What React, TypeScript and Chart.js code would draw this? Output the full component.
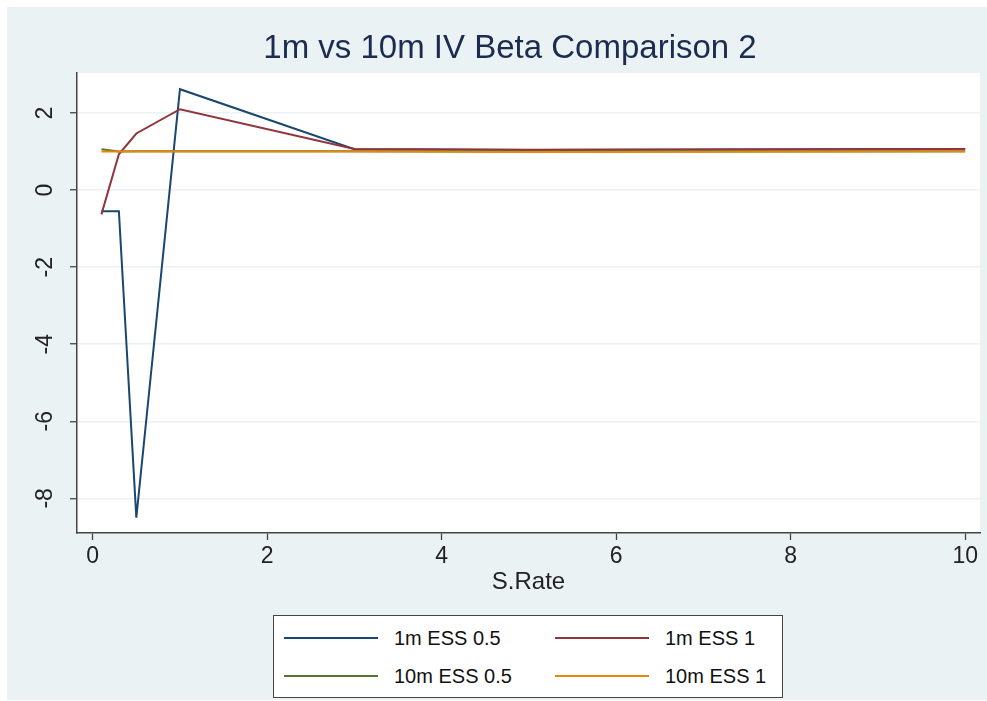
import React, { useEffect, useRef } from "react";
import { Chart, registerables } from "chart.js";

Chart.register(...registerables);

const sRate = [0.1, 0.3, 0.5, 1, 3, 5, 10];
const ess1m05 = [-0.55, -0.55, -8.5, 2.62, 1.06, 1.04, 1.07];
const ess1m1 = [-0.63, 0.93, 1.47, 2.1, 1.07, 1.05, 1.07];
const ess10m05 = [1.06, 1.0, 1.01, 1.01, 1.01, 1.0, 1.01];
const ess10m1 = [1.0, 1.0, 1.0, 1.0, 1.0, 0.99, 1.0];
const seriesNames = ["1m ESS 0.5", "1m ESS 1", "10m ESS 0.5", "10m ESS 1"];
const seriesColors = ["#1a476f", "#90353b", "#55752f", "#e8860f"];
const xTicks = [0, 2, 4, 6, 8, 10];
const yTicks = [-8, -6, -4, -2, 0, 2];

const FONT = "'Liberation Sans', Arial, Helvetica, sans-serif";

export default function App() {
  const ref = useRef<HTMLCanvasElement>(null);

  useEffect(() => {
    document.body.style.margin = "0";
    const plotBg = {
      id: "plotBg",
      beforeDraw(chart: any) {
        const { ctx, chartArea: a } = chart;
        ctx.save();
        ctx.fillStyle = "#ffffff";
        ctx.fillRect(a.left, a.top, a.right - a.left, a.bottom - a.top);
        ctx.restore();
      },
    };
    const all = [ess1m05, ess1m1, ess10m05, ess10m1];
    const chart = new Chart(ref.current!, {
      type: "line",
      data: {
        datasets: all.map((vals, i) => ({
          label: seriesNames[i],
          data: vals.map((v, j) => ({ x: sRate[j], y: v })),
          borderColor: seriesColors[i],
          backgroundColor: seriesColors[i],
          borderWidth: 2,
          pointRadius: 0,
          tension: 0,
          fill: false,
          order: 4 - i,
        })),
      },
      options: {
        responsive: false,
        animation: false,
        layout: { padding: { left: 7, right: 7, top: 73, bottom: 104 } },
        plugins: {
          legend: { display: false },
          title: { display: false },
          tooltip: { enabled: false },
        },
        scales: {
          x: {
            type: "linear",
            min: -0.18,
            max: 10.17,
            afterBuildTicks: (s: any) => {
              s.ticks = xTicks.map((v) => ({ value: v }));
            },
            afterFit: (s: any) => {
              s.height = 64;
            },
            grid: {
              drawOnChartArea: false,
              drawTicks: true,
              tickLength: 7,
              tickColor: "#444",
              tickWidth: 1.3,
            },
            border: { color: "#444", width: 1.5 },
            ticks: {
              font: { family: FONT, size: 23 },
              color: "#222",
              padding: 3,
              maxRotation: 0,
              autoSkip: false,
            },
            title: {
              display: true,
              text: "S.Rate",
              font: { family: FONT, size: 24 },
              color: "#222",
              padding: 0,
            },
          },
          y: {
            type: "linear",
            min: -8.9,
            max: 3.04,
            afterBuildTicks: (s: any) => {
              s.ticks = yTicks.map((v) => ({ value: v }));
            },
            afterFit: (s: any) => {
              s.width = 70;
            },
            grid: {
              color: "#eaf2f3",
              lineWidth: 1.5,
              drawTicks: true,
              tickLength: 7,
              tickColor: "#444",
              tickWidth: 1.3,
            },
            border: { color: "#444", width: 1.5 },
            ticks: {
              font: { family: FONT, size: 23 },
              color: "#222",
              minRotation: 90,
              maxRotation: 90,
              crossAlign: "center",
              padding: 14,
              autoSkip: false,
            },
          },
        },
      },
      plugins: [plotBg],
    } as any);
    return () => chart.destroy();
  }, []);

  const legendItem = (i: number, lineLeft: number, top: number) => (
    <React.Fragment key={i}>
      <div
        style={{
          position: "absolute",
          left: lineLeft,
          top: top - 1,
          width: 94,
          height: 2,
          background: seriesColors[i],
        }}
      />
      <div
        style={{
          position: "absolute",
          left: lineLeft + 110,
          top: top - 12,
          height: 24,
          lineHeight: "24px",
          fontSize: 20,
          fontFamily: FONT,
          color: "#111",
          whiteSpace: "nowrap",
        }}
      >
        {seriesNames[i]}
      </div>
    </React.Fragment>
  );

  return (
    <div
      style={{
        position: "fixed",
        left: 0,
        top: 0,
        width: 987,
        height: 701,
        background: "#ffffff",
        overflow: "hidden",
      }}
    >
      <div
        style={{
          position: "absolute",
          left: 7,
          top: 7,
          width: 980,
          height: 693,
          background: "#eaf2f3",
        }}
      />
      <canvas
        ref={ref}
        width={987}
        height={701}
        style={{ position: "absolute", left: 0, top: 0, width: 987, height: 701 }}
      />
      <div
        style={{
          position: "absolute",
          left: 0,
          top: 30,
          width: 1020,
          textAlign: "center",
          fontFamily: FONT,
          fontSize: 33,
          lineHeight: "33px",
          color: "#1c2b50",
          whiteSpace: "nowrap",
        }}
      >
        1m vs 10m IV Beta Comparison 2
      </div>
      <div
        style={{
          position: "absolute",
          left: 273,
          top: 615,
          width: 510,
          height: 83,
          boxSizing: "border-box",
          border: "1.5px solid #444",
          background: "#ffffff",
        }}
      />
      {legendItem(0, 284, 638)}
      {legendItem(1, 555, 638)}
      {legendItem(2, 284, 676)}
      {legendItem(3, 555, 676)}
    </div>
  );
}
